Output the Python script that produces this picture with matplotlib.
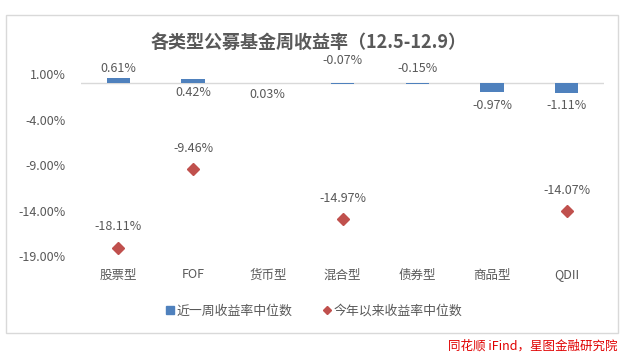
import matplotlib
matplotlib.use("Agg")
import matplotlib.pyplot as plt
from matplotlib.patches import Rectangle
from matplotlib.lines import Line2D
import numpy as np

plt.rcParams['font.family'] = ['Noto Sans CJK SC', 'DejaVu Sans']

categories = ['股票型', 'FOF', '货币型', '混合型', '债券型', '商品型', 'QDII']
weekly = [0.61, 0.42, 0.03, -0.07, -0.15, -0.97, -1.11]
ytd = [-18.11, -9.46, None, -14.97, None, None, -14.07]
yticks = [1, -4, -9, -14, -19]

title = '各类型公募基金周收益率（12.5-12.9）'
legend_labels = ['近一周收益率中位数', '今年以来收益率中位数']
source = '同花顺 iFind，星图金融研究院'

# label offsets (pixels) relative to zero line for the weekly labels
weekly_label_offsets = [15, -9, -11, 23, 15, -22, -22]

bar_color = '#4F81BD'
dot_color = '#C0504D'
text_color = '#595959'
line_color = '#D9D9D9'

W, H = 625, 359
fig = plt.figure(figsize=(W / 100, H / 100), dpi=100)
fig.patch.set_facecolor('white')

# outer frame
fig.add_artist(Rectangle((6 / W, 1 - 333 / H), (618 - 6) / W, (333 - 15) / H,
                         transform=fig.transFigure, fill=False,
                         edgecolor=line_color, linewidth=1))

ax = fig.add_axes([81 / W, 1 - 256 / H, (604 - 81) / W, (256 - 74) / H])
x = np.arange(len(categories))

ax.bar(x, weekly, width=0.31, color=bar_color, zorder=2)
ax.axhline(0, color=line_color, linewidth=1, zorder=1)

ytd_x = [i for i, v in enumerate(ytd) if v is not None]
ytd_y = [v for v in ytd if v is not None]
ax.plot(ytd_x, ytd_y, linestyle='none', marker='D', markersize=6,
        color=dot_color, zorder=3)

for i, v in enumerate(weekly):
    ax.annotate(f'{v:.2f}%', (i, 0), xytext=(0, weekly_label_offsets[i]),
                textcoords='offset pixels', ha='center', va='center',
                fontsize=9, color=text_color, annotation_clip=False)

for xi, v in zip(ytd_x, ytd_y):
    ax.annotate(f'{v:.2f}%', (xi, v), xytext=(0, 21),
                textcoords='offset pixels', ha='center', va='center',
                fontsize=9, color=text_color, annotation_clip=False)

ax.set_xlim(-0.5, len(categories) - 0.5)
ax.set_ylim(-19, 1)
ax.set_yticks(yticks)
ax.set_yticklabels([f'{t:.2f}%' for t in yticks])
ax.set_xticks(x)
ax.set_xticklabels(categories)
ax.tick_params(axis='both', length=0, labelsize=9, labelcolor=text_color)
ax.tick_params(axis='y', pad=11)
ax.tick_params(axis='x', pad=9)
for s in ax.spines.values():
    s.set_visible(False)
ax.set_facecolor('none')

fig.text(309 / W, 1 - 42 / H, title, ha='center', va='center',
         fontsize=13, fontweight='bold', color=text_color)

handles = [Line2D([], [], linestyle='none', marker='s', markersize=6, color=bar_color),
           Line2D([], [], linestyle='none', marker='D', markersize=4, color=dot_color)]
fig.legend(handles, legend_labels, loc='center', bbox_to_anchor=(314 / W, 1 - 311 / H),
           ncol=2, frameon=False, fontsize=9.3, labelcolor=text_color,
           handlelength=0.6, handletextpad=0.2, columnspacing=2.4)

fig.text(618 / W, 1 - 346 / H, source, ha='right', va='center',
         fontsize=9, color='#E00000', style='italic')

fig.savefig('out.png', dpi=100, facecolor='white')
